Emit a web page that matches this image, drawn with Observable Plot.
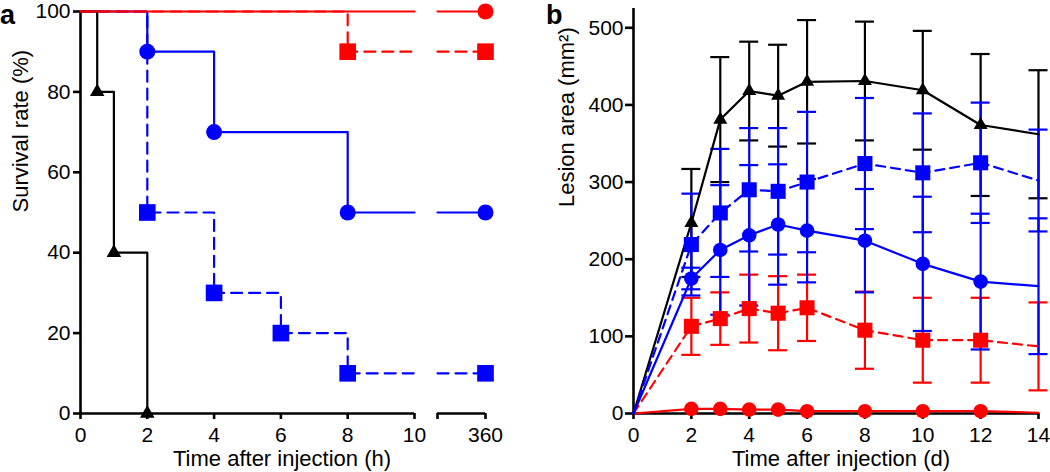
<!DOCTYPE html>
<html><head><meta charset="utf-8">
<script src="https://cdn.jsdelivr.net/npm/d3@7"></script>
<script src="https://cdn.jsdelivr.net/npm/@observablehq/plot@0.6"></script>
<style>
body{margin:0;background:#fff;font-family:"Liberation Sans",Arial,sans-serif;}
#wrap{position:relative;width:1050px;height:472px;overflow:hidden;}
#pa{position:absolute;left:0;top:0;}
#pb{position:absolute;left:540px;top:0;}
.lab{position:absolute;font-weight:bold;font-size:27px;line-height:27px;color:#000;}
</style></head><body>
<div id="wrap"><div id="pa"></div><div id="pb"></div>
<div class="lab" style="left:0px;top:2px">a</div>
<div class="lab" style="left:546px;top:2px">b</div>
</div>
<script>
// ---------- Panel a: survival (Kaplan–Meier steps) ----------
const hourTicks = [0, 2, 4, 6, 8, 10, 360];
const survivalTicks = [0, 20, 40, 60, 80, 100];
const finalHour = 360;
const blackHours = [0, 0.5, 1, 2];
const blackSurvival = [100, 80, 40, 0];
const blueSolidHours = [0, 2, 4, 8];
const blueSolidSurvival = [100, 90, 70, 50];
const blueDashHours = [0, 2, 4, 6, 8];
const blueDashSurvival = [100, 50, 30, 20, 10];
const redSolidHours = [0];
const redSolidSurvival = [100];
const redDashHours = [0, 8];
const redDashSurvival = [100, 90];

// ---------- Panel b: lesion area ----------
const days = [0, 2, 3, 4, 5, 6, 8, 10, 12, 14];
const dayTicks = [0, 2, 4, 6, 8, 10, 12, 14];
const lesionTicks = [0, 100, 200, 300, 400, 500];
const blackMean = [0, 247, 381, 418, 412, 430, 431, 419, 374, 362];
const blackSD   = [0, 70, 81, 64, 66, 80, 77, 77, 92, 83];
const blueSqMean = [0, 219, 260, 290, 288, 300, 324, 312, 325, 302];
const blueSqSD   = [0, 66, 83, 80, 82, 91, 85, 77, 78, 66];
const blueCiMean = [0, 175, 212, 231, 245, 237, 224, 194, 171, 165];
const blueCiSD   = [0, 14, 84, 91, 78, 67, 67, 87, 88, 88];
const redSqMean = [0, 113, 123, 136, 130, 137, 108, 95, 95, 87];
const redSqSD   = [0, 37, 34, 44, 48, 43, 50, 55, 55, 57];
const redCiMean = [0, 6, 6, 5, 5, 3, 3, 3, 3, 1];

const FONT = "Liberation Sans, Arial, sans-serif";
const BLUE = "#0000ff", RED = "#ff0000", BLACK = "#000000";

// ---------- build panel a ----------
const LEFT_END = 10, BREAK_START = 354;
const seriesA = [
  {hours: blueDashHours, surv: blueDashSurvival, color: BLUE, dash: "11,7", symbol: "square", r: 9.4},
  {hours: blueSolidHours, surv: blueSolidSurvival, color: BLUE, dash: null, symbol: "circle", r: 8},
  {hours: blackHours, surv: blackSurvival, color: BLACK, dash: null, symbol: "triangle", r: 5.4},
  {hours: redDashHours, surv: redDashSurvival, color: RED, dash: "11,7", symbol: "square", r: 9.4},
  {hours: redSolidHours, surv: redSolidSurvival, color: RED, dash: null, symbol: "circle", r: 8}
];
const marksA = [];
for (const s of seriesA) {
  const last = s.surv[s.surv.length - 1];
  const rows = s.hours.map((h, i) => ({t: h, v: s.surv[i], part: 0}));
  const pts = s.hours.map((h, i) => ({t: h, v: s.surv[i]})).filter(d => d.t > 0);
  if (last > 0) {
    rows.push({t: LEFT_END, v: last, part: 0});
    rows.push({t: BREAK_START, v: last, part: 1}, {t: finalHour, v: last, part: 1});
    pts.push({t: finalHour, v: last});
  }
  marksA.push(Plot.line(rows, {x: "t", y: "v", z: "part", curve: "step-after", stroke: s.color,
    strokeWidth: 2.2, strokeDasharray: s.dash ?? undefined}));
  marksA.push(Plot.dot(pts, {x: "t", y: "v", symbol: s.symbol, r: s.r, fill: s.color, stroke: "none"}));
}

const plotA = Plot.plot({
  width: 540, height: 472,
  marginLeft: 80, marginRight: 55, marginTop: 11, marginBottom: 59,
  style: {fontFamily: FONT, fontSize: "21px", color: "#000", background: "#fff", overflow: "visible"},
  x: {type: "linear", domain: [0, LEFT_END, BREAK_START, finalHour], range: [80, 414, 437, 485]},
  y: {domain: [0, 100]},
  marks: [
    Plot.ruleY([0], {x1: 0, x2: LEFT_END, stroke: BLACK, strokeWidth: 2.6}),
    Plot.ruleY([0], {x1: BREAK_START, x2: finalHour, stroke: BLACK, strokeWidth: 2.6}),
    Plot.ruleX([0], {y1: 0, y2: 100, stroke: BLACK, strokeWidth: 2.6}),
    Plot.axisX({ticks: [...hourTicks, BREAK_START], tickFormat: d => d === BREAK_START ? "" : String(d),
      tickSize: 6, tickPadding: 8, strokeWidth: 2.6, label: null, fontSize: 21}),
    Plot.axisY({ticks: survivalTicks, tickSize: 7, tickPadding: 3, strokeWidth: 2.6, label: null, fontSize: 21}),
    ...marksA,
    Plot.text(["Time after injection (h)"], {frameAnchor: "bottom", dy: 52, dx: -1, lineAnchor: "bottom", fontSize: 22}),
    Plot.text(["Survival rate (%)"], {frameAnchor: "left", dx: -53, rotate: -90, lineAnchor: "bottom", fontSize: 22})
  ]
});
document.getElementById("pa").append(plotA);

// ---------- build panel b ----------
const seriesB = [
  {mean: redCiMean, sd: null, color: RED, dash: null, symbol: "circle", r: 7.3},
  {mean: redSqMean, sd: redSqSD, color: RED, dash: "9,6", symbol: "square", r: 8.5},
  {mean: blackMean, sd: blackSD, color: BLACK, dash: null, symbol: "triangle", r: 5.2},
  {mean: blueSqMean, sd: blueSqSD, color: BLUE, dash: "9,6", symbol: "square", r: 8.5},
  {mean: blueCiMean, sd: blueCiSD, color: BLUE, dash: null, symbol: "circle", r: 7.3}
];
const barMarks = [], lineMarks = [];
for (const s of seriesB) {
  const rows = days.map((d, i) => ({day: d, v: s.mean[i], sd: s.sd ? s.sd[i] : 0}));
  const lastDay = days[days.length - 1];
  if (s.sd) {
    const bars = rows.filter(d => d.day > 0);
    barMarks.push(Plot.ruleX(bars, {x: "day", y1: d => d.v - d.sd, y2: d => d.v + d.sd, stroke: s.color, strokeWidth: 2.2}));
    const caps = bars.flatMap(d => [{day: d.day, y: d.v - d.sd}, {day: d.day, y: d.v + d.sd}]);
    barMarks.push(Plot.ruleY(caps, {x1: "day", x2: "day", y: "y", insetLeft: -9.5, insetRight: -9.5, stroke: s.color, strokeWidth: 2.2}));
  }
  lineMarks.push(Plot.line(rows, {x: "day", y: "v", stroke: s.color, strokeWidth: 2.2, strokeDasharray: s.dash ?? undefined}));
  lineMarks.push(Plot.dot(rows.filter(d => d.day > 0 && d.day < lastDay), {x: "day", y: "v", symbol: s.symbol, r: s.r, fill: s.color, stroke: "none"}));
}

const plotB = Plot.plot({
  width: 510, height: 472,
  marginLeft: 93, marginRight: 12, marginTop: 8, marginBottom: 59,
  style: {fontFamily: FONT, fontSize: "21px", color: "#000", background: "#fff", overflow: "visible"},
  x: {domain: [0, 14]},
  y: {domain: [0, 525]},
  marks: [
    Plot.ruleY([0], {stroke: BLACK, strokeWidth: 2.6}),
    Plot.ruleX([0], {stroke: BLACK, strokeWidth: 2.6}),
    Plot.axisX({ticks: dayTicks, tickSize: 6, tickPadding: 8, strokeWidth: 2.6, label: null, fontSize: 21}),
    Plot.axisY({ticks: lesionTicks, tickSize: 8, tickPadding: 2, strokeWidth: 2.6, label: null, fontSize: 21}),
    ...barMarks,
    ...lineMarks,
    Plot.text(["Time after injection (d)"], {frameAnchor: "bottom", dy: 52, dx: 5, lineAnchor: "bottom", fontSize: 22}),
    Plot.text(["Lesion area (mm²)"], {frameAnchor: "left", dx: -60, dy: -4, rotate: -90, lineAnchor: "bottom", fontSize: 22})
  ]
});
document.getElementById("pb").append(plotB);
</script>
</body></html>
